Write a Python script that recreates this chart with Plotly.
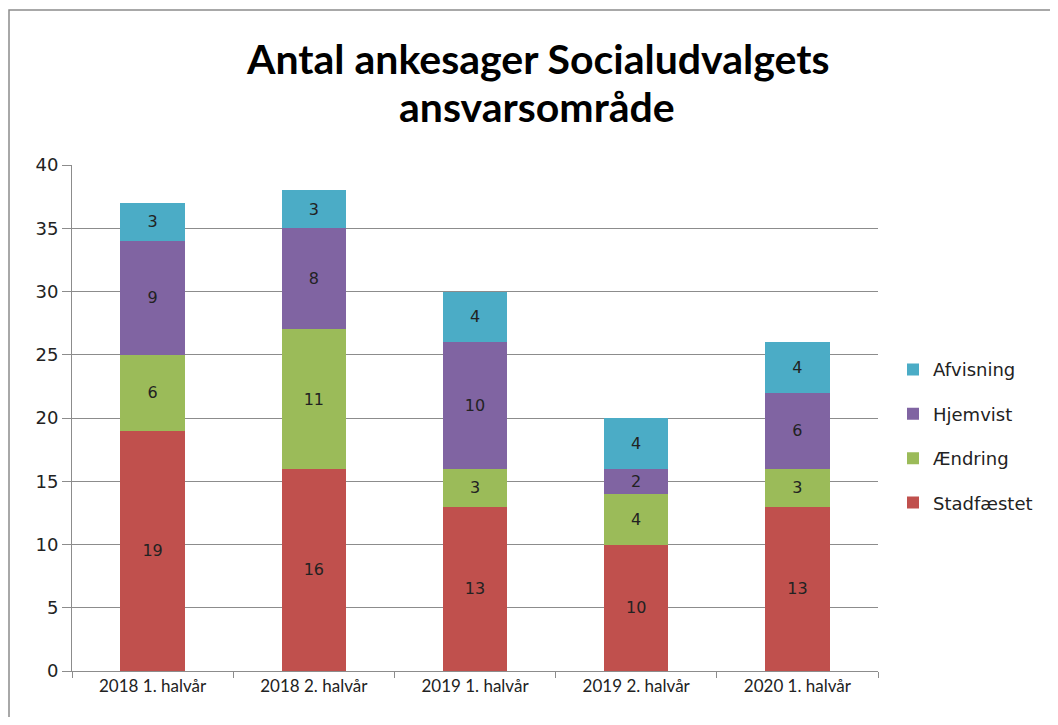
import plotly.graph_objects as go

categories = ["2018 1. halvår", "2018 2. halvår", "2019 1. halvår", "2019 2. halvår", "2020 1. halvår"]
stadfaestet = [19, 16, 13, 10, 13]
aendring = [6, 11, 3, 4, 3]
hjemvist = [9, 8, 10, 2, 6]
afvisning = [3, 3, 4, 4, 4]

series = [
    ("Stadfæstet", stadfaestet, "#C0504D", 4),
    ("Ændring", aendring, "#9BBB59", 3),
    ("Hjemvist", hjemvist, "#8064A2", 2),
    ("Afvisning", afvisning, "#4BACC6", 1),
]

W, H = 1042, 709
ML, MT, PW, PH = 64, 157, 806, 506

fig = go.Figure()
for name, vals, col, rank in series:
    fig.add_trace(go.Bar(
        x=categories, y=vals, name=name, legendrank=rank, legendgroup=name,
        marker=dict(color=col, line=dict(width=0)),
        text=[str(v) for v in vals], textposition="inside",
        insidetextanchor="middle", constraintext="none",
        textfont=dict(family="DejaVu Sans, Verdana", size=16, color="#222222"),
        width=0.4,
    ))

fig.update_layout(
    barmode="stack",
    width=W, height=H,
    paper_bgcolor="white", plot_bgcolor="white",
    margin=dict(l=ML, r=W - ML - PW, t=MT, b=H - MT - PH),
    legend=dict(
        x=(885 - ML) / PW, y=0.464, xanchor="left", yanchor="middle",
        font=dict(family="DejaVu Sans, Verdana", size=18, color="#222222"),
        itemwidth=30, traceorder="grouped", tracegroupgap=18,
    ),
    showlegend=True,
)

for txt, ypix in [("<b>Antal ankesager Socialudvalgets</b>", 50), ("<b>ansvarsområde</b>", 98)]:
    fig.add_annotation(
        text=txt,
        xref="paper", yref="paper", x=(529 - ML) / PW, y=(MT + PH - ypix) / PH,
        xanchor="center", yanchor="middle", showarrow=False,
        font=dict(family="Lato, sans-serif", size=41, color="#000000"),
    )

fig.update_yaxes(
    range=[0, 40], dtick=5,
    showgrid=True, gridcolor="#8C8C8C", gridwidth=1,
    showline=True, linecolor="#8C8C8C", linewidth=1,
    ticks="outside", ticklen=9, tickcolor="#8C8C8C",
    tickfont=dict(family="DejaVu Sans, Verdana", size=18, color="#222222"),
    zeroline=False,
)
fig.update_xaxes(
    showline=True, linecolor="#8C8C8C", linewidth=1,
    ticks="outside", ticklen=6, tickcolor="#8C8C8C", tickson="boundaries",
    tickfont=dict(family="Lato, sans-serif", size=17, color="#222222"),
)

# chart frame border
fig.add_shape(type="rect", xref="paper", yref="paper",
              x0=(1 - ML) / PW, x1=1.3, y0=-0.3, y1=(MT + PH - 2) / PH,
              line=dict(color="#8C8C8C", width=1.5), fillcolor="rgba(0,0,0,0)", layer="below")

fig.write_html("out.html")
